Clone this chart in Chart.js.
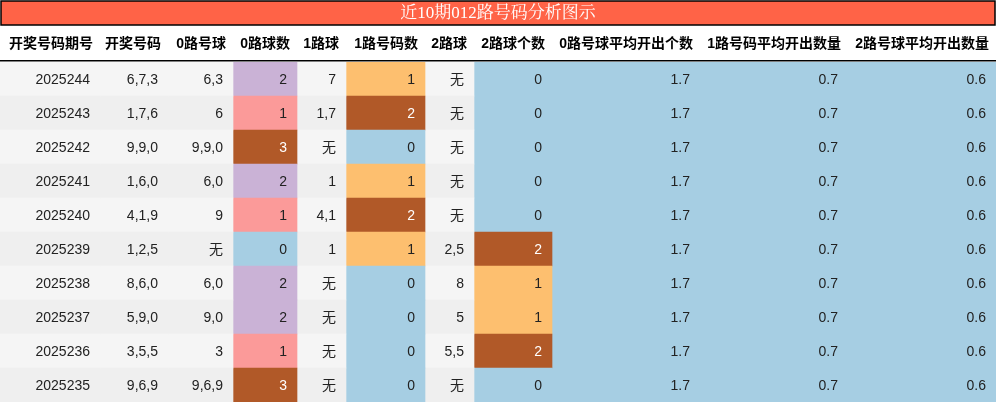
<!DOCTYPE html><html><head><meta charset="utf-8">
<script src="https://cdn.jsdelivr.net/npm/chart.js@4"></script>
<style>html,body{margin:0;padding:0;background:#fff}#w{width:996px;height:403px;position:relative}</style></head><body>
<div id="w"><canvas id="c"></canvas></div>
<script>
const periods=['2025244','2025243','2025242','2025241','2025240','2025239','2025238','2025237','2025236','2025235'];
const draws=['6,7,3','1,7,6','9,9,0','1,6,0','4,1,9','1,2,5','8,6,0','5,9,0','3,5,5','9,6,9'];
const road0Balls=['6,3','6','9,9,0','6,0','9','无','6,0','9,0','3','9,6,9'];
const road0Count=[2,1,3,2,1,0,2,2,1,3];
const road1Balls=['7','1,7','无','1','4,1','1','无','无','无','无'];
const road1Count=[1,2,0,1,2,1,0,0,0,0];
const road2Balls=['无','无','无','无','无','2,5','8','5','5,5','无'];
const road2Count=[0,0,0,0,0,2,1,1,2,0];
const avg0=[1.7,1.7,1.7,1.7,1.7,1.7,1.7,1.7,1.7,1.7];
const avg1=[0.7,0.7,0.7,0.7,0.7,0.7,0.7,0.7,0.7,0.7];
const avg2=[0.6,0.6,0.6,0.6,0.6,0.6,0.6,0.6,0.6,0.6];
const headers=['开奖号码期号','开奖号码','0路号球','0路球数','1路球','1路号码数','2路球','2路球个数','0路号球平均开出个数','1路号码平均开出数量','2路号球平均开出数量'];
const title='近10期012路号码分析图示';

const edges=[0,100,168,233,297,346,425,474,552,700,848,996];
const BLUE='#a6cee3',ORANGE='#fdbf6f',BROWN='#b15928',LAV='#cab2d6',PINK='#fb9a99';
const c0=v=>[BLUE,PINK,LAV,BROWN][v];
const c12=v=>[BLUE,ORANGE,BROWN][v];
const rowBg=i=>i%2===0?'#f5f5f5':'#efefef';
const cols=[
 {t:periods},{t:draws},{t:road0Balls},
 {t:road0Count,c:c0},{t:road1Balls},{t:road1Count,c:c12},{t:road2Balls},{t:road2Count,c:c12},
 {t:avg0,c:()=>BLUE},{t:avg1,c:()=>BLUE},{t:avg2,c:()=>BLUE}];
const datasets=cols.map((col,k)=>({
  data:periods.map(()=>[edges[k],edges[k+1]]),
  backgroundColor:periods.map((p,i)=>col.c?col.c(col.t[i]):rowBg(i)),
  borderWidth:0,barPercentage:1,categoryPercentage:1,grouped:false
}));
const textPlugin={id:'tx',afterDatasetsDraw(ch){
  const g=ch.ctx,ys=ch.scales.y,xs=ch.scales.x;
  g.save();
  // title
  g.fillStyle='#ff6347';g.fillRect(1,1,994,24);
  g.strokeStyle='#000';g.lineWidth=1.5;g.strokeRect(1,1,994,24);
  g.fillStyle='#fff';g.font='17px "Liberation Serif","Noto Serif CJK SC","Noto Sans CJK SC",serif';
  g.textAlign='center';g.textBaseline='middle';g.fillText(title,498,14);
  // header
  g.fillStyle='#000';g.font='bold 14px "Liberation Sans","Noto Sans CJK SC",sans-serif';
  g.textAlign='right';
  headers.forEach((h,k)=>g.fillText(h,xs.getPixelForValue(edges[k+1])-7,44));
  g.fillRect(0,60,996,1.5);
  g.font='14px "Liberation Sans","Noto Sans CJK SC",sans-serif';
  cols.forEach((col,k)=>{col.t.forEach((v,i)=>{
    const bg=col.c?col.c(v):null;
    g.fillStyle=bg===BROWN?'#fff':'#222';
    const s=typeof v==='number'&&k>=8?v.toFixed(1):String(v);
    g.fillText(s,xs.getPixelForValue(edges[k+1])-10,ys.getPixelForValue(i)+1);
  });});
  g.restore();
}};
new Chart(document.getElementById('c'),{type:'bar',
 data:{labels:periods,datasets},
 options:{indexAxis:'y',responsive:true,maintainAspectRatio:false,animation:false,
  layout:{padding:{top:62,bottom:1,left:0,right:0}},
  plugins:{legend:{display:false},tooltip:{enabled:false}},
  scales:{x:{type:'linear',min:0,max:996,display:false},
          y:{display:false,offset:true}}},
 plugins:[textPlugin]});
</script></body></html>
